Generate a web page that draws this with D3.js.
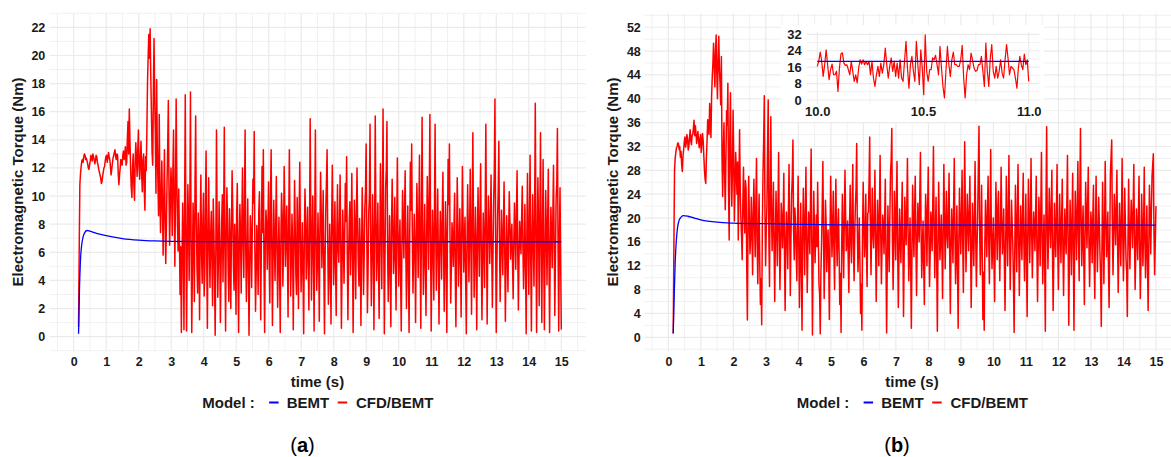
<!DOCTYPE html>
<html><head><meta charset="utf-8">
<script src="https://cdn.jsdelivr.net/npm/d3@7"></script>
<style>
html,body{margin:0;padding:0;background:#fff;}
svg{display:block;}
text{font-family:"Liberation Sans",Arial,sans-serif;}
</style></head><body>
<svg id="chart" width="1171" height="457"></svg>
<script>
// ---------------- data ----------------
const seriesNames = ["BEMT", "CFD/BEMT"];
const timeStart = 0.15, timeEnd = 15;

// (a) CFD/BEMT torque (Nm), sampled evenly from timeStart to timeEnd
const leftCfd = [
0.7,6.2,10.8,11.6,12.1,12.5,12.6,12.4,12.8,13.0,12.9,12.6,12.7,12.5,12.3,12.0,11.9,12.2,12.5,12.9,12.7,12.5,13.0,12.8,12.6,12.3,12.5,12.9,12.8,12.4,12.2,11.9,11.7,11.5,11.3,10.9,11.0,11.4,11.7,12.0,12.1,12.5,12.8,12.9,12.4,12.7,13.1,12.8,12.6,12.1,
11.5,11.9,12.3,12.7,12.9,13.1,13.3,12.8,12.6,13.0,12.9,11.6,10.8,11.5,12.0,12.6,12.4,12.2,12.9,13.2,12.6,12.9,13.5,12.2,12.4,14.1,15.3,13.0,16.2,14.0,12.0,10.6,9.9,12.1,13.0,10.8,9.7,12.4,13.8,12.6,11.4,13.2,14.7,12.0,11.2,12.8,13.9,11.5,10.3,12.6,
13.0,10.4,9.0,12.8,11.8,14.6,18.1,20.0,21.5,19.8,21.9,18.5,16.0,13.1,12.2,17.5,21.2,16.9,14.5,10.2,18.3,13.6,11.0,8.6,15.8,10.5,7.4,10.0,12.5,9.1,5.8,9.6,13.3,8.4,5.2,7.8,11.0,13.5,16.8,10.3,6.5,9.2,12.0,10.6,7.2,11.8,14.7,9.5,5.0,10.1,
16.9,11.2,8.0,6.1,10.5,7.0,3.0,6.4,0.3,5.2,9.5,6.8,0.5,9.1,17.2,7.7,0.4,6.0,10.8,8.2,4.0,9.3,17.4,6.6,0.3,4.8,9.5,7.4,2.5,10.9,15.7,8.5,5.0,3.1,8.8,6.2,1.2,7.9,11.5,6.0,3.8,8.0,10.2,2.9,4.5,9.6,13.2,5.5,0.6,7.3,
11.3,6.7,3.5,7.1,8.9,5.4,2.2,9.8,7.5,4.0,0.1,6.3,14.7,7.9,2.8,5.6,9.6,6.9,1.0,4.7,8.2,10.1,3.9,8.4,14.9,5.8,0.4,7.2,10.6,8.1,4.6,2.5,9.1,6.5,2.0,7.6,11.8,9.0,5.2,3.3,8.0,6.1,1.6,8.7,10.9,4.4,0.3,6.8,9.4,7.0,
3.1,8.3,12.0,6.6,4.2,9.4,14.7,6.0,2.5,5.9,9.8,5.1,0.1,4.9,8.6,7.3,3.5,7.7,11.2,9.5,14.6,6.2,1.8,4.5,7.9,6.4,3.0,8.9,10.3,5.7,1.2,6.9,12.1,7.4,13.3,5.0,0.3,6.7,9.0,8.0,4.8,7.5,11.0,5.3,2.4,9.9,13.3,6.3,0.8,5.9,
9.7,6.8,4.0,7.9,11.4,6.3,2.1,5.6,8.5,4.7,0.3,7.0,10.2,8.6,3.6,6.2,12.1,9.1,5.0,7.2,9.3,5.8,1.4,8.1,13.3,7.6,2.9,5.4,8.7,6.5,0.5,6.1,11.1,7.8,4.4,3.0,9.9,6.7,2.0,8.8,12.4,7.1,3.2,5.5,8.1,4.2,0.2,6.9,10.5,8.3,
4.1,6.4,9.2,5.2,1.9,7.7,15.5,8.3,2.6,6.6,10.0,5.9,0.4,8.4,14.7,7.0,3.3,5.1,8.8,6.1,1.1,7.5,11.7,8.9,4.9,7.3,10.4,4.6,0.2,5.8,9.1,11.0,13.3,6.8,2.3,4.3,8.0,5.6,0.9,7.9,12.2,8.5,3.7,6.0,9.6,5.0,1.5,7.4,10.8,6.2,
5.3,8.0,11.5,6.5,0.6,4.9,9.0,7.1,3.8,6.9,10.9,8.2,12.8,6.0,1.2,5.5,8.2,9.6,4.4,7.0,11.6,6.3,0.3,5.2,9.7,7.6,2.7,8.5,12.0,7.8,5.1,3.6,8.4,6.4,0.8,6.2,10.6,7.3,3.0,5.7,9.2,10.3,13.7,7.5,1.7,4.8,8.8,9.9,15.1,6.8,
2.2,5.9,10.1,6.6,0.5,7.4,15.7,8.7,4.0,6.3,9.5,5.0,1.3,6.8,12.3,8.0,3.4,9.3,16.2,7.2,0.2,5.6,10.7,11.9,15.3,6.1,2.5,5.3,8.6,4.6,0.7,7.7,11.2,8.3,4.5,6.0,9.9,5.4,1.9,8.1,12.7,7.0,3.6,6.7,8.3,4.1,0.4,6.5,10.4,7.9,
5.6,8.9,11.8,6.2,2.0,5.7,9.3,4.9,0.3,7.1,12.4,9.0,13.7,7.3,3.1,5.9,8.7,6.4,1.0,6.6,10.9,7.7,4.2,8.6,12.9,6.1,0.6,8.2,15.6,7.5,3.0,6.0,9.4,5.1,1.5,7.0,11.4,8.4,4.8,10.0,15.8,6.9,0.4,5.5,9.0,6.3,2.6,8.8,15.1,7.2,
3.3,6.9,10.5,5.8,0.9,6.0,8.9,7.2,4.1,8.7,11.7,6.6,1.8,5.3,9.6,6.4,0.3,7.5,12.6,9.4,13.7,6.7,2.4,5.0,8.1,7.0,5.0,7.8,10.2,4.4,0.7,6.3,11.3,8.0,3.6,5.9,9.1,6.1,1.4,7.4,12.1,8.2,4.6,6.8,8.5,3.9,0.2,6.5,10.8,7.6,
3.9,7.4,11.9,6.7,1.6,8.1,14.5,7.9,2.8,5.6,9.2,6.2,0.5,6.9,10.6,7.1,4.3,8.8,12.3,6.0,1.2,5.4,8.8,6.5,3.5,9.0,15.1,7.3,0.9,6.6,10.0,8.3,5.2,7.7,11.5,6.4,2.1,5.8,9.7,11.8,16.9,7.0,0.3,5.1,8.4,10.4,13.9,6.8,2.5,5.9,
9.0,6.7,4.4,7.8,11.0,6.4,1.1,5.0,8.6,6.1,3.2,7.3,10.3,8.2,5.5,6.9,8.0,5.2,2.7,6.8,9.5,7.4,4.8,8.7,11.8,6.2,1.9,5.7,8.2,7.0,5.9,8.5,10.7,6.3,3.4,6.0,9.4,4.9,0.2,7.2,11.6,6.6,3.0,8.4,12.9,5.5,0.4,7.1,10.1,6.5,
3.6,8.9,16.6,7.5,0.3,6.4,11.3,7.9,2.2,8.0,14.5,6.8,1.0,7.2,12.6,6.0,0.5,5.8,10.4,7.6,3.7,8.3,11.9,5.4,0.3,6.1,9.2,7.0,4.9,8.6,12.2,6.7,1.5,5.6,9.8,10.9,14.8,6.3,0.4,6.9,10.6,5.2,0.5
];
// (a) BEMT torque (Nm)
const leftBemtT = [0.15,0.18,0.21,0.24,0.29,0.34,0.41,0.5,0.7,1.0,1.5,2.0,2.5,3.0,4.0,15.0];
const leftBemtV = [0.2,3.5,5.5,6.4,7.1,7.4,7.55,7.5,7.35,7.18,6.98,6.87,6.81,6.78,6.76,6.75];

// (b) CFD/BEMT torque (Nm), sampled evenly from timeStart to timeEnd
const rightCfd = [
0.7,15.0,28.0,30.0,31.0,31.8,32.0,32.6,32.5,31.5,32.0,30.2,31.2,29.0,27.8,30.4,31.5,32.8,33.6,31.9,32.6,34.0,33.3,31.4,32.0,33.5,34.8,33.0,32.3,33.9,34.0,35.1,36.4,33.8,35.5,34.2,32.5,33.6,34.5,32.9,31.8,33.2,34.0,31.0,32.5,34.2,33.0,30.5,28.1,26.5,
25.8,30.1,33.0,36.5,35.2,34.0,39.2,36.8,33.5,40.5,43.7,46.0,49.3,45.5,42.0,47.9,50.7,44.1,40.0,46.3,50.5,45.0,42.5,39.0,47.1,30.2,23.6,31.5,36.0,27.4,21.4,29.8,38.0,35.6,42.6,25.0,16.3,34.0,41.0,28.7,22.0,27.9,38.1,30.3,19.5,25.2,31.0,28.0,24.0,29.4,
16.3,25.5,34.8,24.6,20.0,17.1,13.0,22.4,28.5,21.0,17.5,26.3,25.0,11.8,2.9,18.6,27.0,19.9,14.0,16.8,23.5,18.2,10.5,20.7,26.5,19.4,13.5,22.1,30.0,16.0,9.0,17.3,24.0,12.6,5.5,9.8,2.1,19.0,27.5,33.0,40.5,20.8,12.0,18.1,22.0,31.7,39.8,16.9,8.5,24.7,
37.0,21.3,14.5,19.7,26.0,15.4,6.0,16.2,24.5,18.8,12.0,20.9,31.0,17.6,8.0,14.9,22.5,20.2,15.0,19.3,27.5,13.9,4.5,15.8,21.0,17.0,11.5,20.4,29.0,18.5,7.0,16.6,24.0,26.8,33.1,18.0,13.0,21.7,19.0,14.4,9.5,18.9,27.0,15.1,5.0,13.6,22.5,11.2,1.2,17.7,
25.0,18.4,10.5,20.1,28.5,16.3,7.5,14.2,21.0,19.6,14.0,22.8,31.6,15.7,0.4,12.9,24.5,18.7,12.5,16.9,20.5,15.2,26.0,17.4,9.0,7.3,0.6,10.8,15.5,21.9,29.5,17.8,6.5,13.1,23.0,19.2,11.0,15.6,18.0,12.3,3.0,16.4,27.0,20.6,13.5,17.9,24.5,14.6,8.0,19.5,
26.5,17.2,12.0,18.3,21.5,14.1,5.5,10.7,0.8,15.9,24.0,16.5,10.0,19.8,28.0,20.3,14.5,17.0,19.5,13.2,7.5,18.6,25.5,16.1,12.5,21.2,29.0,15.3,9.5,17.5,22.0,24.9,32.5,18.2,11.0,14.8,20.0,12.7,4.0,8.9,1.2,17.6,26.0,19.0,13.5,16.7,24.0,14.3,8.5,20.8,
21.0,26.2,33.6,19.1,10.5,18.0,25.0,17.3,15.0,20.0,28.0,16.8,6.0,14.7,23.0,18.5,12.0,21.6,30.5,17.1,9.0,15.5,20.5,18.9,14.0,19.7,26.5,13.4,0.7,12.1,22.0,16.2,11.0,20.7,27.5,29.8,35.0,16.0,8.0,15.1,24.5,19.3,13.0,22.6,29.5,14.9,5.0,13.8,21.5,16.6,
12.5,19.4,26.0,15.2,3.5,13.6,23.5,19.0,15.5,21.8,30.0,18.1,9.5,14.0,20.0,11.9,1.5,14.5,25.5,18.7,13.5,20.9,27.0,16.4,7.0,15.7,22.5,18.2,16.0,23.9,31.0,17.7,10.0,15.0,19.5,12.2,5.5,16.3,24.0,19.9,12.0,21.4,28.5,17.2,8.5,14.1,21.0,18.6,14.5,22.7,
32.0,18.8,10.0,17.4,23.5,12.8,1.0,14.6,26.0,19.3,13.0,16.1,20.5,15.4,6.5,17.9,29.0,20.5,11.5,18.4,24.5,17.0,15.0,21.1,27.5,13.3,4.0,15.6,21.5,16.8,12.5,22.2,30.0,17.5,9.0,14.2,22.0,11.4,1.5,16.0,25.0,18.9,14.0,20.3,28.0,15.8,7.5,19.6,32.8,21.5,
11.0,16.7,24.0,19.6,14.5,20.8,27.0,15.9,5.0,13.7,22.5,17.8,12.0,20.2,29.5,16.5,8.5,15.3,21.0,27.9,35.4,18.3,10.5,17.1,25.5,14.0,3.0,10.9,1.2,15.6,23.0,18.0,13.5,21.3,27.0,16.2,9.0,19.5,31.5,17.6,11.5,15.4,20.0,13.0,6.0,16.9,26.0,19.1,13.0,21.9,
24.5,16.0,9.5,18.2,28.5,19.7,14.0,17.3,21.5,12.6,4.5,15.1,27.0,20.4,12.0,18.8,30.5,17.9,8.0,14.9,23.0,19.0,15.5,9.2,0.8,14.3,25.5,18.1,11.0,20.6,29.0,16.6,7.0,15.2,22.0,17.5,13.0,21.0,27.5,15.7,9.5,16.4,24.0,12.9,3.5,17.0,26.5,20.0,12.5,19.2,
30.0,17.6,10.0,16.3,21.0,18.5,14.5,20.7,27.0,15.0,6.0,14.4,23.5,19.4,12.0,21.2,31.0,16.9,9.0,15.8,20.5,11.7,1.0,22.9,35.3,18.6,11.5,17.7,25.0,19.8,15.0,21.6,28.0,14.2,4.5,13.5,22.5,17.3,13.5,20.9,29.0,16.1,8.0,15.4,24.0,18.0,12.5,19.7,26.5,14.8,
7.0,15.3,21.5,17.0,14.0,22.3,30.5,16.4,2.0,13.9,23.0,18.3,10.5,19.2,27.5,14.7,1.2,16.2,24.5,19.5,13.0,21.7,29.5,17.1,9.5,24.3,35.0,19.9,12.0,17.6,22.0,13.8,5.5,16.8,26.0,20.1,15.0,22.5,28.5,15.9,8.5,14.6,21.0,18.4,12.5,20.3,25.5,13.1,6.5,17.5,
27.0,18.0,11.0,16.6,23.5,19.1,14.0,9.7,1.8,15.0,26.0,17.2,9.0,18.6,29.5,20.4,13.5,16.5,21.0,12.4,5.0,16.1,27.5,30.2,33.1,18.7,10.5,17.4,24.0,20.2,15.5,21.5,28.0,16.3,7.5,14.8,22.5,18.1,12.0,19.8,30.0,17.0,9.5,15.9,25.0,19.3,13.0,11.1,3.5,16.0,
26.5,17.4,11.5,18.2,23.0,19.6,15.0,21.8,29.0,16.7,8.0,14.4,21.5,18.3,13.0,20.5,27.0,15.1,6.5,13.2,24.0,19.0,12.0,17.8,28.5,16.4,10.0,15.7,22.0,12.5,4.5,14.9,25.5,20.7,14.0,21.0,27.0,28.9,30.8,17.3,10.5,16.2,22.0
];
// (b) BEMT torque (Nm)
const rightBemtT = [0.15,0.18,0.21,0.24,0.28,0.33,0.4,0.46,0.6,0.8,1.0,1.5,2.0,3.0,4.0,5.5,15.0];
const rightBemtV = [0.6,7.0,12.5,15.8,18.3,19.6,20.2,20.4,20.3,20.0,19.7,19.3,19.15,19.05,18.95,18.85,18.8];

// (b) inset: zoom on 10 s .. 11 s, sampled evenly
const insetStart = 10, insetEnd = 11;
const insetCfd = [
16.4,18.8,23.4,18.8,11.5,17.2,24.5,17.2,9.9,14.8,17.5,12.3,12.3,14.0,4.2,15.6,22.4,23.0,18.0,16.9,17.2,14.8,12.3,18.8,14.0,
9.1,12.3,8.3,15.6,19.6,17.5,19.6,17.2,18.8,17.2,18.8,12.3,18.8,10.7,6.6,12.3,16.4,11.5,18.0,13.1,17.2,25.3,17.2,10.7,16.4,
20.5,14.0,18.8,11.5,18.0,10.7,19.6,10.7,9.1,18.8,28.6,15.6,5.8,17.2,21.3,14.0,9.1,28.6,17.2,7.5,24.5,15.6,2.6,31.8,
14.0,9.1,14.8,14.8,20.5,19.6,21.8,17.2,12.3,26.1,15.6,6.6,1.0,14.0,26.1,17.2,11.5,19.6,23.4,17.2,17.2,16.4,16.4,19.6,26.6,
10.7,1.0,12.3,17.2,14.8,22.9,19.6,15.6,14.0,14.3,17.2,17.2,21.3,14.0,6.6,27.8,14.0,6.6,20.5,27.0,14.0,10.7,16.4,10.7,14.0,
19.6,13.1,10.7,19.6,27.0,20.5,12.3,16.4,15.6,14.8,10.7,5.8,15.6,21.3,17.2,14.8,22.4,17.2,19.6,9.1
];
const insetBemtT = [10, 11];
const insetBemtV = [18.8, 18.8];

// tick labels
const xTicks = [0,1,2,3,4,5,6,7,8,9,10,11,12,13,14,15];
const xMinor = [-0.5,0.5,1.5,2.5,3.5,4.5,5.5,6.5,7.5,8.5,9.5,10.5,11.5,12.5,13.5,14.5,15.5];
const leftYTicks = [0,2,4,6,8,10,12,14,16,18,20,22];
const leftYMinor = [-1,1,3,5,7,9,11,13,15,17,19,21,23];
const rightYTicks = [0,4,8,12,16,20,24,28,32,36,40,44,48,52];
const rightYMinor = [-2,2,6,10,14,18,22,26,30,34,38,42,46,50,54];
const insetXTicks = [10, 10.5, 11];
const insetXMinor = [10.25, 10.75];
const insetYTicks = [0, 8, 16, 24, 32];
const insetYMinor = [4, 12, 20, 28];

// ---------------- drawing ----------------
const BLUE = "#0000ff", RED = "#ff0000", GRID = "#ebebeb", INK = "#1a1a1a";
const svg = d3.select("#chart");

function evenSeries(values, t0, t1) {
  const n = values.length;
  return values.map((v, i) => ({t: t0 + i * (t1 - t0) / (n - 1), v}));
}
function pairSeries(ts, vs) { return ts.map((t, i) => ({t, v: vs[i]})); }

let clipId = 0;
function drawPanel(o) {
  const x = d3.scaleLinear().domain(o.xDomain).range([o.left, o.right]);
  const y = d3.scaleLinear().domain(o.yDomain).range([o.bottom, o.top]);
  const g = svg.append("g");
  if (o.background) {
    g.append("rect").attr("x", o.background[0]).attr("y", o.background[1])
      .attr("width", o.background[2]).attr("height", o.background[3]).attr("fill", "#fff");
  }
  const grid = g.append("g");
  const hl = (vals, w) => grid.selectAll(null).data(vals).enter().append("line")
      .attr("x1", o.left).attr("x2", o.right).attr("y1", d => y(d)).attr("y2", d => y(d))
      .attr("stroke", GRID).attr("stroke-width", w);
  const vl = (vals, w) => grid.selectAll(null).data(vals).enter().append("line")
      .attr("y1", o.top).attr("y2", o.bottom).attr("x1", d => x(d)).attr("x2", d => x(d))
      .attr("stroke", GRID).attr("stroke-width", w);
  hl(o.yMinor, 0.7); vl(o.xMinor, 0.7);
  hl(o.yTicks, 1.2); vl(o.xTicks, 1.2);

  const id = "clip" + (clipId++);
  svg.append("defs").append("clipPath").attr("id", id).append("rect")
    .attr("x", o.left).attr("y", o.top).attr("width", o.right - o.left).attr("height", o.bottom - o.top);
  const lines = g.append("g").attr("clip-path", `url(#${id})`);
  const line = d3.line().x(d => x(d.t)).y(d => y(d.v));
  lines.append("path").datum(o.cfd).attr("d", line).attr("fill", "none")
    .attr("stroke", RED).attr("stroke-width", o.redWidth).attr("stroke-linejoin", "round");
  lines.append("path").datum(o.bemt).attr("d", line.curve(d3.curveMonotoneX)).attr("fill", "none")
    .attr("stroke", BLUE).attr("stroke-width", o.blueWidth);

  const xa = g.append("g").attr("transform", `translate(0,${o.bottom})`)
    .call(d3.axisBottom(x).tickValues(o.xTicks).tickSize(0).tickPadding(o.xPad).tickFormat(o.xFmt));
  const ya = g.append("g").attr("transform", `translate(${o.left},0)`)
    .call(d3.axisLeft(y).tickValues(o.yTicks).tickSize(0).tickPadding(o.yPad).tickFormat(d3.format("d")));
  [xa, ya].forEach(a => {
    a.select(".domain").remove();
    a.selectAll("text").attr("font-family", "Liberation Sans, Arial, sans-serif")
      .attr("font-weight", "bold").attr("font-size", o.tickSize).attr("fill", INK);
  });
  return {x, y};
}

function decorate(o) {
  const cx = o.center;
  svg.append("text").attr("x", cx).attr("y", 386.5).attr("text-anchor", "middle")
    .attr("font-weight", "bold").attr("font-size", 15).attr("fill", INK).text("time (s)");
  svg.append("text").attr("transform", `translate(${o.yTitleX},${o.midY}) rotate(-90)`)
    .attr("text-anchor", "middle").attr("font-weight", "bold").attr("font-size", 15).attr("fill", INK)
    .text("Electromagnetic Torque (Nm)");
  // legend
  const lx = cx - 115.2;
  const lg = svg.append("g").attr("transform", `translate(${lx},0)`);
  lg.append("text").attr("x", 0).attr("y", 408).attr("font-weight", "bold").attr("font-size", 15)
    .attr("fill", INK).text("Model :");
  const keyX = [66.8, 135.4], textX = [84.4, 153.7];
  [BLUE, RED].forEach((c, i) => {
    lg.append("line").attr("x1", keyX[i]).attr("x2", keyX[i] + 9.5).attr("y1", 402.5).attr("y2", 402.5)
      .attr("stroke", c).attr("stroke-width", 2);
    lg.append("text").attr("x", textX[i]).attr("y", 408).attr("font-weight", "bold").attr("font-size", 15)
      .attr("fill", INK).text(seriesNames[i]);
  });
  const lab = svg.append("text").attr("x", cx - 15).attr("y", 452).attr("text-anchor", "middle")
    .attr("font-family", "DejaVu Serif, serif").attr("font-size", 20).attr("fill", "#000");
  lab.append("tspan").text("(");
  lab.append("tspan").attr("font-weight", "bold").text(o.tag);
  lab.append("tspan").text(")");
}

// panel (a)
drawPanel({
  left: 49.3, right: 585.7, top: 13.3, bottom: 351,
  xDomain: [-0.75, 15.75], yDomain: [-1.02, 23.0],
  xTicks, xMinor, yTicks: leftYTicks, yMinor: leftYMinor,
  xPad: 6, yPad: 4, xFmt: d3.format("d"), tickSize: 12.5,
  cfd: evenSeries(leftCfd, timeStart, timeEnd), bemt: pairSeries(leftBemtT, leftBemtV),
  redWidth: 1.5, blueWidth: 1.3
});
decorate({center: 317.5, yTitleX: 22.5, midY: 182, tag: "a"});

// panel (b)
drawPanel({
  left: 644.3, right: 1180, top: 13.3, bottom: 351,
  xDomain: [-0.74, 15.74], yDomain: [-2.3, 54.34],
  xTicks, xMinor, yTicks: rightYTicks, yMinor: rightYMinor,
  xPad: 6, yPad: 3.5, xFmt: d3.format("d"), tickSize: 12.5,
  cfd: evenSeries(rightCfd, timeStart, timeEnd), bemt: pairSeries(rightBemtT, rightBemtV),
  redWidth: 1.5, blueWidth: 1.3
});
decorate({center: 912, yTitleX: 617.5, midY: 182, tag: "b"});

// inset in panel (b)
drawPanel({
  background: [781, 25, 263, 97],
  left: 806.7, right: 1039.3, top: 31.7, bottom: 104,
  xDomain: [9.95, 11.05], yDomain: [-1.95, 33.3],
  xTicks: insetXTicks, xMinor: insetXMinor, yTicks: insetYTicks, yMinor: insetYMinor,
  xPad: 2.7, yPad: 5, xFmt: d3.format(".1f"), tickSize: 13,
  cfd: evenSeries(insetCfd, insetStart, insetEnd), bemt: pairSeries(insetBemtT, insetBemtV),
  redWidth: 1.2, blueWidth: 1.3
});
</script>
</body></html>
